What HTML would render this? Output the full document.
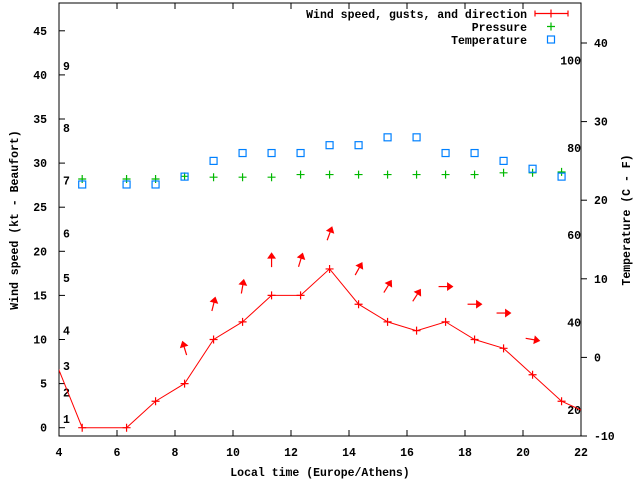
<!DOCTYPE html>
<html><head><meta charset="utf-8"><style>
body{margin:0;background:#fff}
svg{display:block;font-family:"Liberation Mono",monospace;font-weight:bold;font-size:11.5px}
</style></head><body>
<svg id="chart" width="640" height="480" viewBox="0 0 640 480" xmlns="http://www.w3.org/2000/svg">
<g id="axes"></g><g id="plot"></g>
</svg>
<script>
const times=[4.8,6.33,7.33,8.33,9.33,10.33,11.33,12.33,13.33,14.33,15.33,16.33,17.33,18.33,19.33,20.33,21.33];
const windSpeed=[0,0,3,5,10,12,15,15,18,14,12,11,12,10,9,6,3];
const windBefore=[3.33,12];
const windAfter=[22.33,1.5];
const pressure=[28.2,28.2,28.2,28.5,28.4,28.4,28.4,28.7,28.7,28.7,28.7,28.7,28.7,28.7,28.9,28.9,29.0];
const temperature=[22,22,22,23,25,26,26,26,27,27,28,28,26,26,25,24,23];
const gustTimes=[8.33,9.33,10.33,11.33,12.33,13.33,14.33,15.33,16.33,17.33,18.33,19.33,20.33];
const gusts=[9,14,16,19,19,22,18,16,15,16,14,13,10];
const gustDir=[343,14,10,0,17,20,29,32,33,90,90,90,100];
const xTicks=[4,6,8,10,12,14,16,18,20,22];
const yTicks=[0,5,10,15,20,25,30,35,40,45];
const tTicks=[-10,0,10,20,30,40];
const fTicks=[20,40,60,80,100];
const bft=[1,2,3,4,5,6,7,8,9];
const bftKt=[1,4,7,11,17,22,28,34,41];

const L=59,R=581,T=3,B=436;
const X=t=>L+(t-4)*(R-L)/18;
const Y=v=>427.7-v*8.82;
const YT=c=>436-(c+10)*7.86;
const NS="http://www.w3.org/2000/svg";
const ax=document.getElementById('axes'),pl=document.getElementById('plot');
function mk(tag,attrs,parent,txt){const e=document.createElementNS(NS,tag);for(const k in attrs)e.setAttribute(k,attrs[k]);if(txt!==undefined)e.textContent=txt;parent.appendChild(e);return e;}

let e=mk('rect',{x:L,y:T,width:R-L,height:B-T,fill:'none',stroke:'#000','stroke-width':1},ax);


xTicks.forEach(t=>{
  mk('line',{x1:X(t),x2:X(t),y1:B,y2:B-6,stroke:'#000'},ax);
  mk('line',{x1:X(t),x2:X(t),y1:T,y2:T+6,stroke:'#000'},ax);
  let l=mk('text',{x:X(t),y:456,'text-anchor':'middle'},ax,String(t));
  
  
});
yTicks.forEach(v=>{
  mk('line',{x1:L,x2:L+6,y1:Y(v),y2:Y(v),stroke:'#000'},ax);
  let l=mk('text',{x:47,y:Y(v)+4,'text-anchor':'end'},ax,String(v));
  
  
});
tTicks.forEach(c=>{
  mk('line',{x1:R,x2:R+6,y1:YT(c),y2:YT(c),stroke:'#000'},ax);
  let l=mk('text',{x:594,y:YT(c)+4},ax,String(c));
  
  
});
fTicks.forEach(f=>{
  let l=mk('text',{x:581,y:YT((f-32)*5/9)+4,'text-anchor':'end'},ax,String(f));
  
  
});
bft.forEach((b,i)=>{
  let l=mk('text',{x:63,y:Y(bftKt[i])+4},ax,String(b));
  
  
});
e=mk('text',{x:320,y:476,'text-anchor':'middle'},ax,'Local time (Europe/Athens)');


e=mk('text',{x:0,y:0,'text-anchor':'middle',transform:'translate(18,220) rotate(-90)'},ax,'Wind speed (kt - Beaufort)');


e=mk('text',{x:0,y:0,'text-anchor':'middle',transform:'translate(630,220) rotate(-90)'},ax,'Temperature (C - F)');



// clip
const defs=mk('defs',{},pl);
const cp=mk('clipPath',{id:'clip'},defs);mk('rect',{x:L,y:T,width:R-L,height:B-T},cp);
const g=mk('g',{'clip-path':'url(#clip)'},pl);

// wind line
let pts=[[windBefore[0],windBefore[1]]];times.forEach((t,i)=>pts.push([t,windSpeed[i]]));pts.push([windAfter[0],windAfter[1]]);
e=mk('polyline',{points:pts.map(p=>X(p[0])+','+Y(p[1])).join(' '),fill:'none',stroke:'#f00','stroke-width':1},g);


function plus(x,y,c,name){const p=mk('path',{d:`M${x-4},${y}h8M${x},${y-4}v8`,stroke:c,'stroke-width':1.2,fill:'none'},g);}
times.forEach((t,i)=>plus(X(t),Y(windSpeed[i]),'#f00','wind-point'));
pressure.forEach((p,i)=>plus(X(times[i]),Y(p),'#00b800','pressure-point'));
temperature.forEach((c,i)=>{
  const r=mk('rect',{x:X(times[i])-3.5,y:YT(c)-3.5,width:7,height:7,fill:'none',stroke:'#0080ff','stroke-width':1.2},g);
  
  
});
gusts.forEach((v,i)=>{
  const a=mk('g',{transform:`translate(${X(gustTimes[i])},${Y(v)}) rotate(${gustDir[i]})`},g);
  
  
  mk('line',{x1:0,y1:7,x2:0,y2:-5,stroke:'#f00','stroke-width':1.2},a);
  mk('path',{d:'M0,-7L-3.5,-2L3.5,-2Z',fill:'#f00',stroke:'#f00'},a);
});

// legend
const lg=mk('g',{},pl);


[['Wind speed, gusts, and direction',18],['Pressure',31],['Temperature',44]].forEach((r,i)=>{
  const t=mk('text',{x:527,y:r[1],'text-anchor':'end'},lg,r[0]);
  
  
});
mk('path',{d:'M535,13.5h33M535,10.5v6M568,10.5v6M551,9.5v8',stroke:'#f00','stroke-width':1.2,fill:'none'},lg);
mk('path',{d:'M547,26.5h8M551,22.5v8',stroke:'#00b800','stroke-width':1.2,fill:'none'},lg);
mk('rect',{x:547.5,y:36,width:7,height:7,fill:'none',stroke:'#0080ff','stroke-width':1.2},lg);
</script>
</body></html>
